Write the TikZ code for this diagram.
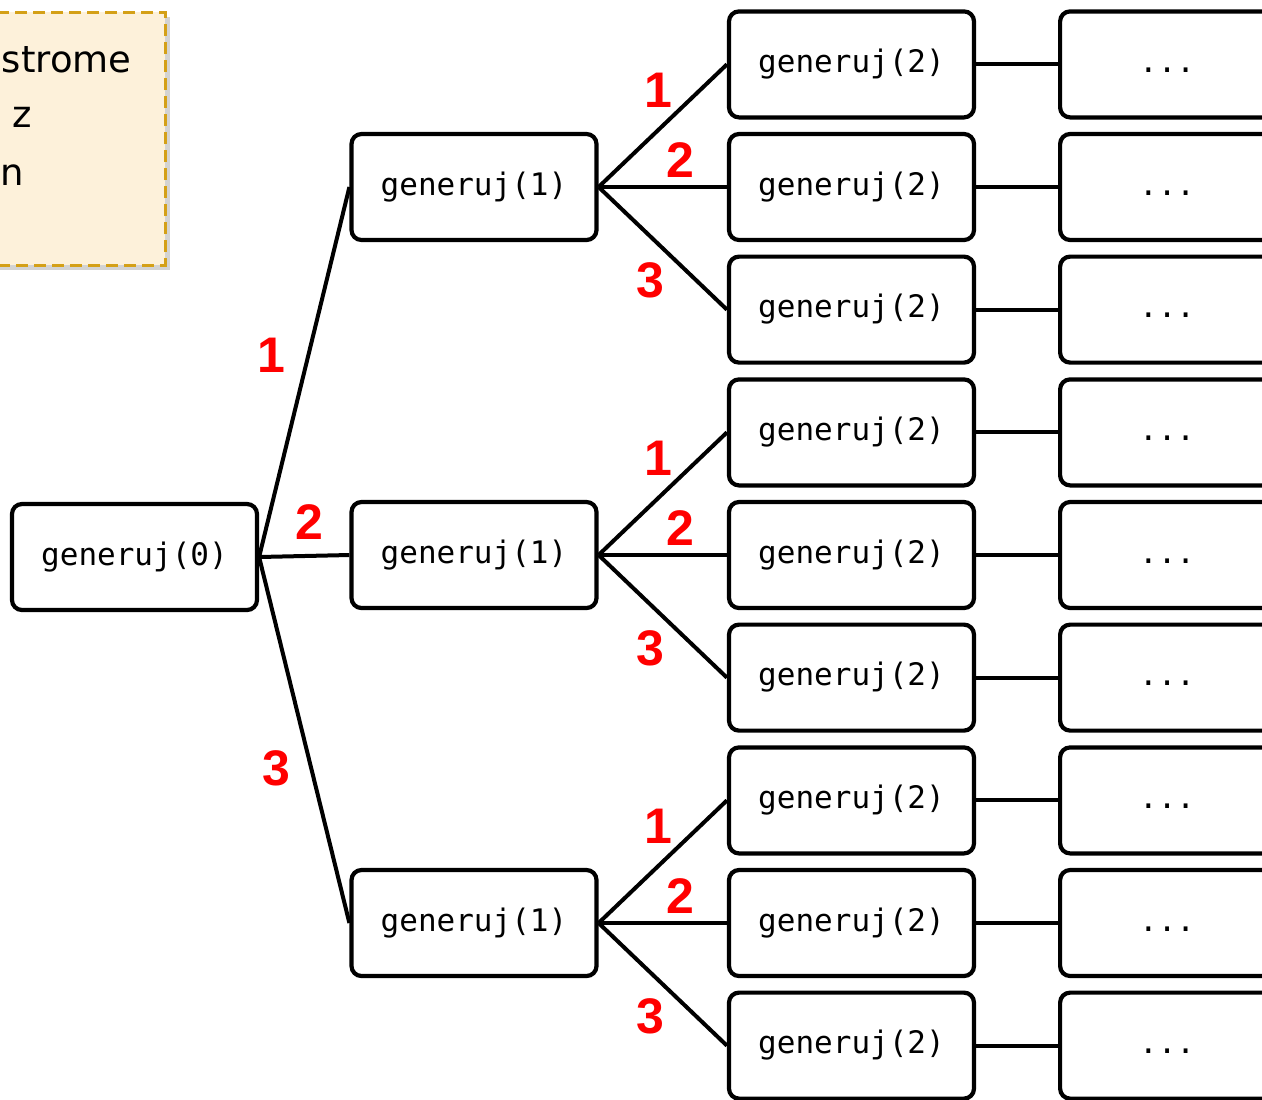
\documentclass[tikz,border=0pt]{standalone}
\usepackage{fontspec}
\setmainfont{DejaVu Sans}
\setmonofont{DejaVu Sans Mono}
\newfontfamily\numfont{Liberation Sans}
\usetikzlibrary{shadows}
\definecolor{notefill}{RGB}{253,241,218}
\definecolor{noteedge}{RGB}{212,160,23}
\begin{document}
\begin{tikzpicture}[x=0.5pt,y=-0.5pt,
  call/.style={draw,line width=2.1pt,rounded corners=5pt,fill=white,
    minimum width=122.5pt,minimum height=53pt,inner sep=0pt,
    text height=12pt,text depth=4pt,
    font=\ttfamily\fontsize{15.5}{18}\selectfont},
  num/.style={text=red,font=\numfont\bfseries\fontsize{25}{28}\selectfont},
  branch/.style={line width=2pt}]
\useasboundingbox (0,0) rectangle (1262,1099);
\clip (0,0) rectangle (1262,1099);
% note in the corner
\node[draw=noteedge,fill=notefill,dash pattern=on 6pt off 3pt,line width=1.5pt,
  minimum width=92.5pt,minimum height=126.5pt,
  drop shadow={shadow xshift=2.5pt,shadow yshift=-2.5pt,opacity=0.35}] (note) at (72.5,138.5) {};
\node[anchor=base east,inner sep=0pt,font=\fontsize{18.5}{22}\selectfont] (l1) at (132,72) {strome};
\node[anchor=base east,inner sep=0pt,font=\fontsize{18.5}{22}\selectfont] (l2) at (32,127) {z};
\node[anchor=base west,inner sep=0pt,font=\fontsize{18.5}{22}\selectfont] (l3) at (0,185) {n};
% tree
\node[call] (root) at (134.5,557) {generuj(0)};
\foreach \i/\y in {1/187,2/555,3/923} {
  \node[call] (mid\i) at (474,\y) {generuj(1)};
  \draw[branch] (root.east) -- (mid\i.west);
  \foreach \j/\d in {1/-122.6,2/0,3/122.6} {
    \node[call] (leaf\i\j) at (851.5,\y+\d) {generuj(2)};
    \node[call,anchor=west,minimum width=107pt] (more\i\j) at (1058,\y+\d) {...};
    \draw[branch] (mid\i.east) -- (leaf\i\j.west);
    \draw[branch] (leaf\i\j.east) -- (more\i\j.west);
  }
  \node[num] at (658,\y-97) {1};
  \node[num] at (680,\y-27) {2};
  \node[num] at (650,\y+93) {3};
}
\node[num] at (271,355) {1};
\node[num] at (309,522) {2};
\node[num] at (276,768) {3};
\end{tikzpicture}
\end{document}
